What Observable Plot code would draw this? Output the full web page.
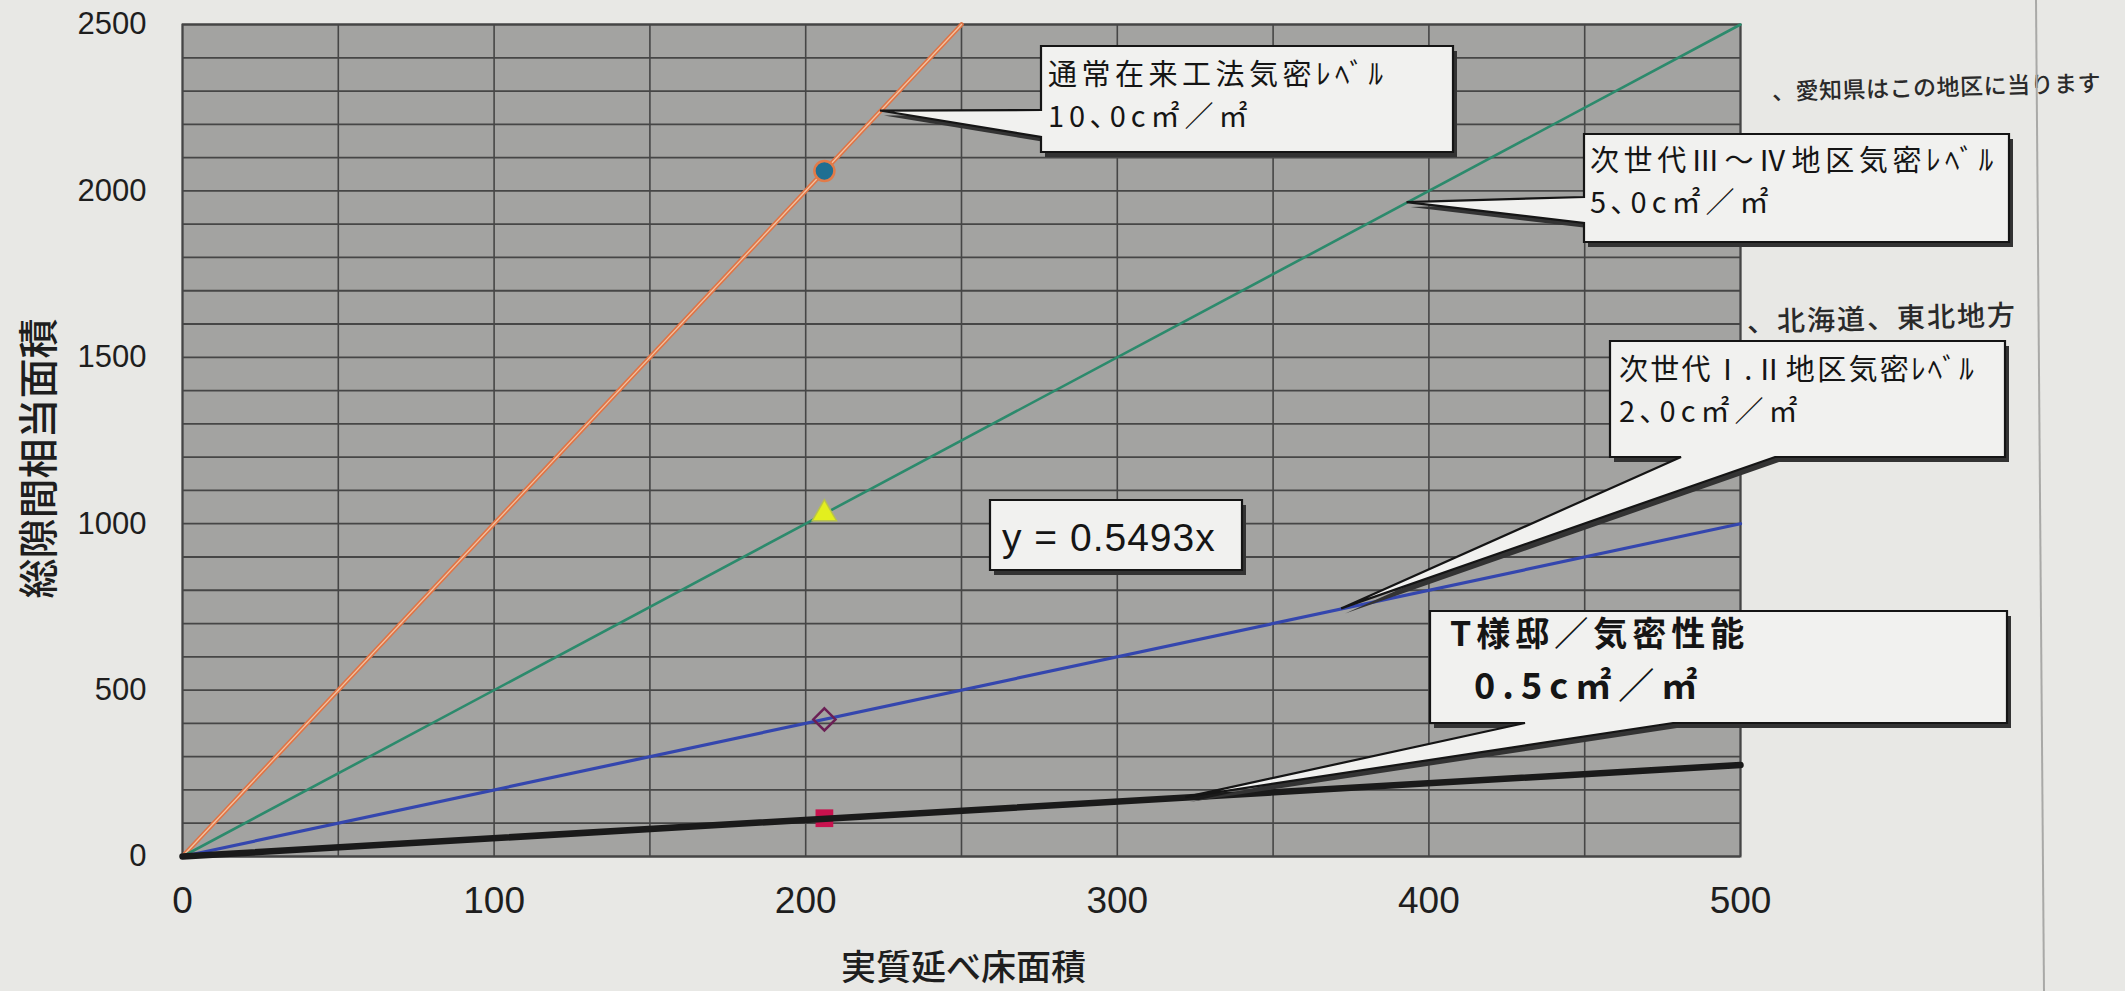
<!DOCTYPE html>
<html>
<head>
<meta charset="utf-8">
<script src="https://cdn.jsdelivr.net/npm/d3@7"></script>
<script src="https://cdn.jsdelivr.net/npm/@observablehq/plot@0.6"></script>
<style>
  html, body { margin: 0; padding: 0; background: #e8e8e5; }
  #chart svg { display: block; }
</style>
</head>
<body>
<div id="chart"></div>
<script>
// ---- data ----
const xTicks = [0, 100, 200, 300, 400, 500];
const yTicks = [0, 500, 1000, 1500, 2000, 2500];
const xGrid = [0, 50, 100, 150, 200, 250, 300, 350, 400, 450, 500];
const yGrid = [0, 100, 200, 300, 400, 500, 600, 700, 800, 900, 1000, 1100, 1200, 1300, 1400, 1500, 1600, 1700, 1800, 1900, 2000, 2100, 2200, 2300, 2400, 2500];

const seriesNames = ["通常在来工法気密レベル 10.0", "次世代Ⅲ～Ⅳ地区気密レベル 5.0", "次世代Ⅰ.Ⅱ地区気密レベル 2.0", "T様邸 0.5493"];
const seriesStartX = [0, 0, 0, 0];
const seriesStartY = [0, 0, 0, 0];
const seriesEndX = [250, 500, 500, 500];
const seriesEndY = [2500, 2500, 1000, 275];

const houseArea = 206;
const markerY = [2060, 1030, 412, 115];

const yTitle = "総隙間相当面積";
const xTitle = "実質延べ床面積";

// callout texts
const callout1 = ["通常在来工法気密ﾚﾍﾞﾙ", "10､0c㎡／㎡"];
const callout2 = ["次世代Ⅲ～Ⅳ地区気密ﾚﾍﾞﾙ", "5､0c㎡／㎡"];
const callout3 = ["次世代Ⅰ.Ⅱ地区気密ﾚﾍﾞﾙ", "2､0c㎡／㎡"];
const callout5 = ["T様邸／気密性能", "0.5c㎡／㎡"];
const equation = "y = 0.5493x";
const note1 = "、愛知県はこの地区に当ります";
const note2 = "、北海道、東北地方";

// callout tips (data coordinates on each line)
const tip1 = [224, 2240];
const tip2 = [393, 1965];
const tip3 = [372, 744];
const tip5 = [322, 177];

// ---- build tables ----
const lineRows = [];
seriesNames.forEach((s, i) => {
  lineRows.push({s, x: seriesStartX[i], y: seriesStartY[i]});
  lineRows.push({s, x: seriesEndX[i], y: seriesEndY[i]});
});
const rowsOf = i => lineRows.filter(d => d.s === seriesNames[i]);
const markerRows = seriesNames.map((s, i) => ({s, x: houseArea, y: markerY[i]}));

const cjk = "'Noto Sans CJK JP', 'Noto Sans', sans-serif";
const latin = "'Liberation Sans', Arial, sans-serif";

const chart = Plot.plot({
  width: 2125,
  height: 991,
  marginLeft: 182,
  marginRight: 385,
  marginTop: 24,
  marginBottom: 135,
  style: {background: "transparent", fontFamily: latin, color: "#1e1e1e", overflow: "visible"},
  x: {domain: [0, 500]},
  y: {domain: [0, 2500]},
  marks: [
    Plot.frame({fill: "#a3a3a1"}),
    Plot.gridX(xGrid, {stroke: "#464646", strokeOpacity: 1, strokeWidth: 1.6}),
    Plot.gridY(yGrid, {stroke: "#464646", strokeOpacity: 1, strokeWidth: 1.8}),
    Plot.frame({stroke: "#454545", strokeWidth: 2}),
    // lines
    Plot.line(rowsOf(0), {x: "x", y: "y", stroke: "#df7446", strokeWidth: 4.5}),
    Plot.line(rowsOf(0), {x: "x", y: "y", stroke: "#f3c2a0", strokeWidth: 1.3}),
    Plot.line(rowsOf(1), {x: "x", y: "y", stroke: "#2c8a6c", strokeWidth: 2.6}),
    Plot.line(rowsOf(2), {x: "x", y: "y", stroke: "#3446ae", strokeWidth: 3.2}),
    Plot.dot([markerRows[3]], {x: "x", y: "y", symbol: "square", r: 10, fill: "#c8124e", stroke: "none"}),
    Plot.line(rowsOf(3), {x: "x", y: "y", stroke: "#1a1a1a", strokeWidth: 6.5}),
    // markers at the house floor area
    Plot.dot([markerRows[0]], {x: "x", y: "y", symbol: "circle", r: 10, fill: "#1f6f92", stroke: "#e27b48", strokeWidth: 2.5}),
    Plot.dot([markerRows[1]], {x: "x", y: "y", symbol: "triangle", r: 9, fill: "#e3ef1e", stroke: "#b9c34a", strokeWidth: 1.5}),
    Plot.dot([markerRows[2]], {x: "x", y: "y", symbol: "diamond2", r: 10, fill: "none", stroke: "#6b1f55", strokeWidth: 2.5}),
    // axes
    Plot.axisX(xTicks, {tickSize: 0, tickPadding: 30, fontSize: 37, fontFamily: latin, label: null, fill: "#1e1e1e", tickFormat: d3.format("d")}),
    Plot.axisY(yTicks, {tickSize: 0, tickPadding: 36, fontSize: 31, fontFamily: latin, label: null, fill: "#1e1e1e", tickFormat: d3.format("d")}),
    Plot.text([yTitle], {frameAnchor: "left", textAnchor: "middle", lineAnchor: "middle", dx: -142, dy: 18, rotate: -90, fontSize: 40, fontFamily: cjk, fontWeight: 500, fill: "#1e1e1e"}),
    Plot.text([xTitle], {frameAnchor: "bottom", textAnchor: "middle", lineAnchor: "middle", dx: 2, dy: 112, fontSize: 35, fontFamily: cjk, fontWeight: 500, fill: "#1e1e1e"})
  ]
});

document.getElementById("chart").appendChild(chart);

// ---- annotations (callouts) ----
const sx = chart.scale("x"), sy = chart.scale("y");
const svg = d3.select(chart);
const g = svg.append("g").attr("text-anchor", "start");

function calloutPath(box, ptr) {
  const {x1, y1, x2, y2} = box;
  let pts;
  if (ptr.side === "left") {
    const tx = sx.apply(ptr.tip[0]), ty = sy.apply(ptr.tip[1]);
    pts = [[x1, y1], [x2, y1], [x2, y2], [x1, y2], [x1, ptr.b], [tx, ty], [x1, ptr.a]];
  } else if (ptr.side === "bottom") {
    const tx = sx.apply(ptr.tip[0]), ty = sy.apply(ptr.tip[1]);
    pts = [[x1, y1], [x2, y1], [x2, y2], [ptr.b, y2], [tx, ty], [ptr.a, y2], [x1, y2]];
  } else {
    pts = [[x1, y1], [x2, y1], [x2, y2], [x1, y2]];
  }
  return "M" + pts.map(p => p.join(",")).join("L") + "Z";
}

function callout(box, ptr, lines) {
  const d = calloutPath(box, ptr);
  g.append("path").attr("d", d).attr("transform", "translate(4,5)").attr("fill", "#333").attr("stroke", "none");
  g.append("path").attr("d", d).attr("fill", "#f1f1ef").attr("stroke", "#151515").attr("stroke-width", 2.2).attr("stroke-linejoin", "miter");
  lines.forEach(l => {
    g.append("text").attr("x", l.x).attr("y", l.y).attr("font-family", l.font || cjk)
      .attr("font-size", l.size).attr("font-weight", l.weight || 400).attr("fill", "#151515")
      .attr("text-anchor", "start")
      .attr("letter-spacing", l.ls || 0).attr("dominant-baseline", "central").text(l.t);
  });
}

callout({x1: 1041, y1: 46, x2: 1453, y2: 152}, {side: "left", a: 110, b: 137, tip: tip1}, [
  {t: callout1[0], x: 1048, y: 72, size: 29, ls: 4.5},
  {t: callout1[1], x: 1048, y: 114, size: 29, ls: 5}
]);
callout({x1: 1584, y1: 134, x2: 2009, y2: 242}, {side: "left", a: 197, b: 223, tip: tip2}, [
  {t: callout2[0], x: 1590, y: 158, size: 29, ls: 4.6},
  {t: callout2[1], x: 1590, y: 200, size: 29, ls: 5}
]);
callout({x1: 1610, y1: 341, x2: 2005, y2: 457}, {side: "bottom", a: 1681, b: 1775, tip: tip3}, [
  {t: callout3[0], x: 1619, y: 367, size: 29, ls: 2.3},
  {t: callout3[1], x: 1619, y: 409, size: 29, ls: 5}
]);
callout({x1: 990, y1: 500, x2: 1242, y2: 570}, {side: "none"}, [
  {t: equation, x: 1002, y: 537, size: 39, font: latin, ls: 1}
]);
callout({x1: 1430, y1: 611, x2: 2007, y2: 723}, {side: "bottom", a: 1525, b: 1673, tip: tip5}, [
  {t: callout5[0], x: 1450, y: 631, size: 34, weight: 700, ls: 5},
  {t: callout5[1], x: 1474, y: 683, size: 36, weight: 700, ls: 7}
]);

// handwritten notes on the page margin
g.append("text").attr("x", 1772).attr("y", 90).attr("font-family", cjk).attr("font-size", 23)
  .attr("font-weight", 500).attr("fill", "#2a2a2a").attr("letter-spacing", 0.5).attr("text-anchor", "start")
  .attr("dominant-baseline", "central").attr("transform", "rotate(-1.5,1772,90)").text(note1);
g.append("text").attr("x", 1747).attr("y", 320).attr("font-family", cjk).attr("font-size", 28)
  .attr("font-weight", 500).attr("fill", "#2a2a2a").attr("letter-spacing", 2).attr("text-anchor", "start")
  .attr("dominant-baseline", "central").attr("transform", "rotate(-1.5,1747,320)").text(note2);

// paper edge
g.append("line").attr("x1", 2036).attr("x2", 2044).attr("y1", 0).attr("y2", 991)
  .attr("stroke", "#a9a9a7").attr("stroke-width", 2);
</script>
</body>
</html>
